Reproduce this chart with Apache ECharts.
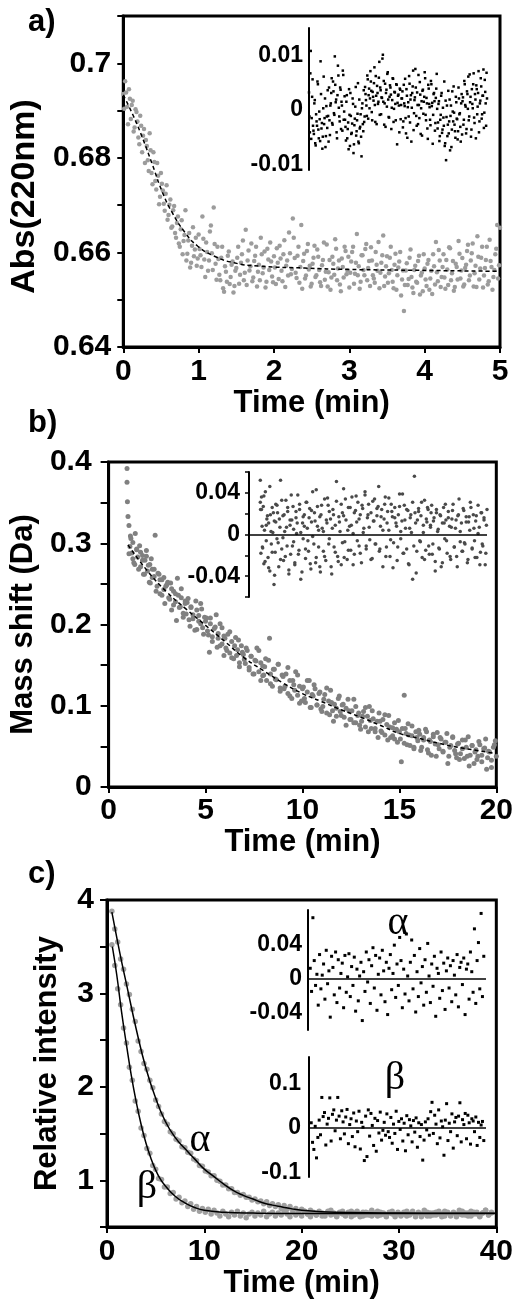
<!DOCTYPE html>
<html>
<head>
<meta charset="utf-8">
<title>Decay kinetics a-c</title>
<script src="https://cdn.jsdelivr.net/npm/echarts@6/dist/echarts.min.js"></script>
<style>
html, body { margin: 0; padding: 0; background: #fff; }
#chart { width: 516px; height: 1300px; }
</style>
</head>
<body>
<div id="chart"></div>
<script>
// ---- panel a : absorbance at 220 nm (two interleaved sweeps) ----
var aTime = [
  0,0.025,0.05,0.075,0.1,0.125,0.15,0.175,0.2,0.225,
  0.25,0.275,0.3,0.325,0.35,0.375,0.4,0.425,0.45,0.475,
  0.5,0.525,0.55,0.575,0.6,0.625,0.65,0.675,0.7,0.725,
  0.75,0.775,0.8,0.825,0.85,0.875,0.9,0.925,0.95,0.975,
  1,1.025,1.05,1.075,1.1,1.125,1.15,1.175,1.2,1.225,
  1.25,1.275,1.3,1.325,1.35,1.375,1.4,1.425,1.45,1.475,
  1.5,1.525,1.55,1.575,1.6,1.625,1.65,1.675,1.7,1.725,
  1.75,1.775,1.8,1.825,1.85,1.875,1.9,1.925,1.95,1.975,
  2,2.025,2.05,2.075,2.1,2.125,2.15,2.175,2.2,2.225,
  2.25,2.275,2.3,2.325,2.35,2.375,2.4,2.425,2.45,2.475,
  2.5,2.525,2.55,2.575,2.6,2.625,2.65,2.675,2.7,2.725,
  2.75,2.775,2.8,2.825,2.85,2.875,2.9,2.925,2.95,2.975,
  3,3.025,3.05,3.075,3.1,3.125,3.15,3.175,3.2,3.225,
  3.25,3.275,3.3,3.325,3.35,3.375,3.4,3.425,3.45,3.475,
  3.5,3.525,3.55,3.575,3.6,3.625,3.65,3.675,3.7,3.725,
  3.75,3.775,3.8,3.825,3.85,3.875,3.9,3.925,3.95,3.975,
  4,4.025,4.05,4.075,4.1,4.125,4.15,4.175,4.2,4.225,
  4.25,4.275,4.3,4.325,4.35,4.375,4.4,4.425,4.45,4.475,
  4.5,4.525,4.55,4.575,4.6,4.625,4.65,4.675,4.7,4.725,
  4.75,4.775,4.8,4.825,4.85,4.875,4.9,4.925,4.95,4.975,
  5
];
var aAbs = [
  0.6935,0.6962,0.6908,0.6945,0.6882,0.6921,0.6864,0.6897,0.6843,0.6889,
  0.6812,0.6861,0.6838,0.6795,0.6852,0.6768,0.6812,0.6751,0.6789,0.6702,
  0.6768,0.6731,0.6688,0.6742,0.6679,0.6712,0.6655,0.6698,0.6631,0.6676,
  0.6612,0.6668,0.6624,0.6689,0.6597,0.6641,0.6578,0.6653,0.6606,0.6572,
  0.6638,0.6594,0.6676,0.6585,0.6621,0.6561,0.6644,0.6598,0.6695,0.6576,
  0.6612,0.6553,0.6589,0.6524,0.6571,0.6538,0.6602,0.6548,0.6581,0.6529,
  0.6567,0.6612,0.6553,0.6596,0.6541,0.6648,0.6583,0.6562,0.6619,0.6547,
  0.6593,0.6528,0.6574,0.6631,0.6556,0.6602,0.6538,0.6585,0.6621,0.6549,
  0.6592,0.6533,0.6578,0.6614,0.6561,0.6596,0.6527,0.6583,0.6642,0.6554,
  0.6672,0.6588,0.6546,0.6612,0.6569,0.6523,0.6597,0.6551,0.6618,0.6572,
  0.6534,0.6589,0.6548,0.6606,0.6563,0.6529,0.6584,0.6542,0.6617,0.6558,
  0.6521,0.6591,0.6553,0.6608,0.6566,0.6532,0.6587,0.6547,0.6603,0.6562,
  0.6526,0.6581,0.6612,0.6555,0.6639,0.6571,0.6538,0.6594,0.6552,0.6618,
  0.6567,0.6529,0.6583,0.6545,0.6601,0.6561,0.6524,0.6578,0.6636,0.6549,
  0.6592,0.6556,0.6612,0.6538,0.6574,0.6521,0.6568,0.6601,0.6543,0.6476,
  0.6562,0.6531,0.6589,0.6548,0.6514,0.6572,0.6536,0.6593,0.6551,0.6518,
  0.6566,0.6529,0.6584,0.6545,0.6512,0.6571,0.6622,0.6539,0.6583,0.6548,
  0.6596,0.6523,0.6564,0.6611,0.6541,0.6582,0.6527,0.6569,0.6624,0.6545,
  0.6588,0.6532,0.6574,0.6616,0.6551,0.6598,0.6528,0.6572,0.6634,0.6543,
  0.6589,0.6526,0.6567,0.6612,0.6539,0.6582,0.6521,0.6563,0.6608,0.6545,
  0.6652
];
var aResid = [
  0.0032,-0.0041,0.0108,-0.0015,0.0056,
  -0.0038,0.0012,-0.0061,-0.0008,-0.0029,0.0047,-0.0052,-0.0017,0.0089,-0.0034,
  -0.0071,0.0003,-0.0026,0.0021,-0.0048,-0.0012,0.0036,-0.0058,-0.0019,0.0008,
  0.0031,-0.0024,0.0052,-0.0006,0.0098,0.0014,-0.0041,0.0027,0.0063,-0.0012,
  0.0041,-0.0035,0.0008,0.0072,-0.0018,0.0025,
  -0.0031,0.0015,-0.0052,-0.0023,0.0038,-0.0066,-0.0011,-0.0042,0.0021,-0.0079,
  -0.0028,0.0006,-0.0047,-0.0019,0.0049,-0.0061,-0.0034,-0.0008,-0.0085,0.0012,
  -0.0039,-0.0022,
  0.0042,0.0018,-0.0011,0.0056,0.0027,0.0003,0.0071,0.0035,-0.0019,0.0024,
  0.0049,0.0009,0.0062,-0.0026,0.0031,0.0015,0.0088,0.0041,-0.0008,0.0022,
  0.0101,0.0053,0.0012,-0.0031,0.0037,0.0066,0.0019,-0.0014,0.0045,0.0028,
  0.0004,0.0058,-0.0022,0.0033,0.0011,0.0047,-0.0063,0.0026,0.0008,0.0039,
  -0.0017,0.0021,
  0.0034,-0.0021,0.0012,0.0057,-0.0043,0.0026,0.0005,-0.0012,0.0048,0.0019,
  -0.0058,0.0031,0.0072,-0.0006,0.0023,0.0041,-0.0029,0.0009,0.0064,-0.0015,
  0.0028,0.0003,-0.0047,0.0037,0.0015,0.0069,-0.0009,0.0022,-0.0034,0.0046,
  0.0011,-0.0018,0.0053,0.0007,-0.0062,0.0029,0.0016,-0.0024,0.0039,0.0002,
  -0.0023,0.0016,-0.0048,-0.0009,0.0031,-0.0036,-0.0014,0.0052,-0.0061,-0.0092,
  0.0008,-0.0027,-0.0043,0.0019,-0.0011,-0.0068,0.0034,-0.0021,-0.0005,-0.0039,
  0.0024,-0.0016,-0.0054,0.0041,-0.0008,-0.0031,0.0012,-0.0045,
  0.0023,-0.0018,0.0047,0.0006,-0.0035,0.0029,0.0061,-0.0012,0.0014,-0.0049,
  0.0038,0.0003,0.0067,-0.0024,0.0019,0.0045,-0.0008,0.0031,-0.0041,0.0012,
  0.0058,-0.0016,0.0026,0.0074,-0.0005,0.0033,-0.0029,0.0021
];
var aTime2 = [
  0.0125,0.0375,0.0625,0.0875,0.1125,0.1375,0.1625,0.1875,0.2125,0.2375,
  0.2625,0.2875,0.3125,0.3375,0.3625,0.3875,0.4125,0.4375,0.4625,0.4875,
  0.5125,0.5375,0.5625,0.5875,0.6125,0.6375,0.6625,0.6875,0.7125,0.7375,
  0.7625,0.7875,0.8125,0.8375,0.8625,0.8875,0.9125,0.9375,0.9625,0.9875,
  1.0125,1.0375,1.0625,1.0875,1.1125,1.1375,1.1625,1.1875,1.2125,1.2375,
  1.2625,1.2875,1.3125,1.3375,1.3625,1.3875,1.4125,1.4375,1.4625,1.4875,
  1.5125,1.5375,1.5625,1.5875,1.6125,1.6375,1.6625,1.6875,1.7125,1.7375,
  1.7625,1.7875,1.8125,1.8375,1.8625,1.8875,1.9125,1.9375,1.9625,1.9875,
  2.0125,2.0375,2.0625,2.0875,2.1125,2.1375,2.1625,2.1875,2.2125,2.2375,
  2.2625,2.2875,2.3125,2.3375,2.3625,2.3875,2.4125,2.4375,2.4625,2.4875,
  2.5125,2.5375,2.5625,2.5875,2.6125,2.6375,2.6625,2.6875,2.7125,2.7375,
  2.7625,2.7875,2.8125,2.8375,2.8625,2.8875,2.9125,2.9375,2.9625,2.9875,
  3.0125,3.0375,3.0625,3.0875,3.1125,3.1375,3.1625,3.1875,3.2125,3.2375,
  3.2625,3.2875,3.3125,3.3375,3.3625,3.3875,3.4125,3.4375,3.4625,3.4875,
  3.5125,3.5375,3.5625,3.5875,3.6125,3.6375,3.6625,3.6875,3.7125,3.7375,
  3.7625,3.7875,3.8125,3.8375,3.8625,3.8875,3.9125,3.9375,3.9625,3.9875,
  4.0125,4.0375,4.0625,4.0875,4.1125,4.1375,4.1625,4.1875,4.2125,4.2375,
  4.2625,4.2875,4.3125,4.3375,4.3625,4.3875,4.4125,4.4375,4.4625,4.4875,
  4.5125,4.5375,4.5625,4.5875,4.6125,4.6375,4.6625,4.6875,4.7125,4.7375,
  4.7625,4.7875,4.8125,4.8375,4.8625,4.8875,4.9125,4.9375,4.9625,4.9875
];
var aAbs2 = [
  0.6904,0.6938,0.6871,0.6925,0.6912,0.6856,0.6903,0.6877,0.6829,0.6868,
  0.6847,0.6789,0.6825,0.6772,0.6816,0.6744,0.6791,0.6733,0.6762,0.6718,
  0.6745,0.6703,0.6724,0.6669,0.6701,0.6652,0.6689,0.6641,0.6662,0.6619,
  0.6649,0.6596,0.6637,0.6583,0.6625,0.6568,0.6614,0.6592,0.6631,0.6587,
  0.6607,0.6569,0.6629,0.6548,0.6601,0.6583,0.6657,0.6563,0.6618,0.6542,
  0.6586,0.6541,0.6612,0.6517,0.6559,0.6593,0.6533,0.6574,0.6515,0.6561,
  0.6589,0.6534,0.6578,0.6625,0.6557,0.6531,0.6604,0.6571,0.6539,0.6582,
  0.6612,0.6559,0.6541,0.6596,0.6568,0.6526,0.6608,0.6563,0.6581,0.6537,
  0.6568,0.6609,0.6544,0.6587,0.6539,0.6626,0.6572,0.6551,0.6598,0.6565,
  0.6631,0.6557,0.6593,0.6536,0.6658,0.6582,0.6545,0.6603,0.6564,0.6528,
  0.6576,0.6614,0.6552,0.6591,0.6537,0.6573,0.6621,0.6559,0.6528,0.6584,
  0.6547,0.6576,0.6628,0.6541,0.6583,0.6518,0.6569,0.6612,0.6554,0.6591,
  0.6557,0.6601,0.6534,0.6578,0.6552,0.6523,0.6594,0.6563,0.6607,0.6541,
  0.6582,0.6611,0.6552,0.6536,0.6574,0.6622,0.6557,0.6594,0.6529,0.6571,
  0.6536,0.6589,0.6563,0.6524,0.6597,0.6552,0.6581,0.6509,0.6562,0.6531,
  0.6577,0.6544,0.6606,0.6526,0.6563,0.6538,0.6582,0.6511,0.6557,0.6596,
  0.6543,0.6576,0.6521,0.6561,0.6596,0.6532,0.6558,0.6605,0.6527,0.6569,
  0.6547,0.6584,0.6531,0.6609,0.6556,0.6519,0.6576,0.6543,0.6597,0.6562,
  0.6528,0.6567,0.6603,0.6541,0.6583,0.6619,0.6556,0.6527,0.6591,0.6566,
  0.6612,0.6551,0.6584,0.6532,0.6627,0.6569,0.6548,0.6596,0.6658,0.6573
];
var aResid2 = [
  -0.0012,0.0067,-0.0053,0.0024,-0.0029,
  -0.0044,0.0018,-0.0065,-0.0021,0.0052,-0.0036,-0.0003,-0.0057,0.0029,-0.0024,
  -0.0049,0.0061,-0.0015,-0.0068,0.0007,-0.0033,-0.0011,0.0041,-0.0046,
  0.0012,0.0058,-0.0027,0.0034,-0.0009,0.0046,0.0019,-0.0052,0.0081,0.0004,
  -0.0021,0.0037,0.0015,-0.0038,0.0064,-0.0003,
  -0.0018,-0.0056,0.0027,-0.0035,-0.0072,-0.0009,0.0031,-0.0044,-0.0025,0.0011,
  -0.0063,-0.0016,0.0042,-0.0039,-0.0007,-0.0058,0.0019,-0.0031,-0.0049,0.0003,
  -0.0026,0.0036,-0.0012,
  0.0029,0.0008,0.0063,-0.0016,0.0039,0.0021,0.0052,-0.0004,0.0033,0.0017,
  0.0078,-0.0022,0.0026,0.0044,0.0011,0.0059,-0.0009,0.0036,0.0023,0.0094,
  0.0015,-0.0027,0.0048,0.0031,0.0006,0.0069,-0.0013,0.0024,0.0041,-0.0035,
  0.0018,0.0057,0.0002,0.0032,-0.0019,0.0046,0.0013,0.0028,-0.0041,0.0037,
  0.0009,
  0.0021,-0.0032,0.0046,0.0007,-0.0015,0.0038,-0.0051,0.0014,0.0062,-0.0023,
  0.0027,0.0004,0.0043,-0.0037,0.0018,0.0075,-0.0011,0.0032,-0.0026,0.0009,
  0.0051,-0.0044,0.0016,0.0035,-0.0007,0.0024,0.0058,-0.0019,0.0012,-0.0053,
  0.0039,0.0005,-0.0028,0.0047,0.0013,-0.0009,0.0031,-0.0038,0.0022,0.0066,
  -0.0034,0.0011,-0.0057,-0.0018,0.0026,-0.0042,0.0004,-0.0029,-0.0066,0.0017,
  -0.0013,-0.0048,0.0035,-0.0021,-0.0074,0.0008,-0.0036,-0.0003,0.0043,-0.0027,
  -0.0051,0.0014,-0.0017,-0.0039,0.0021,-0.0006,-0.0058,0.0029,
  0.0016,-0.0027,0.0053,0.0009,-0.0043,0.0034,0.0002,-0.0019,0.0065,0.0024,
  -0.0036,0.0011,0.0047,-0.0014,0.0029,-0.0052,0.0038,0.0006,0.0071,-0.0021,
  0.0017,0.0043,-0.0008,0.0026,-0.0033,0.0055,0.0012,0.0068
];
var aFitTime = [0,0.13,0.26,0.39,0.52,0.65,0.82,0.99,1.21,1.47,1.81,2.41,3,4,5];
var aFitAbs = [0.6933,0.689,0.684,0.6784,0.6727,0.6684,0.6642,0.6613,0.6592,0.6578,0.6571,0.6567,0.6564,0.6562,0.656];

// ---- panel b : mass shift (two interleaved sweeps) ----
var bTime = [
  0.95,0.95,0.97,1,1.05,1.1,1.125,1.2,1.25,1.3,
  1.375,1.45,1.5,1.6,1.65,1.75,1.8,1.875,1.95,2,
  2.1,2.125,2.2,2.25,2.35,2.4,2.5,2.6,2.65,2.75,
  2.85,2.9,3,3.1,3.2,3.25,3.35,3.45,3.5,3.6,
  3.7,3.75,3.85,3.95,4,4.1,4.2,4.25,4.35,4.5,
  4.55,4.65,4.75,4.8,4.9,5,5.1,5.2,5.25,5.35,
  5.5,5.6,5.65,5.75,5.85,5.95,6,6.1,6.25,6.35,
  6.5,6.6,6.7,6.75,6.9,7,7.1,7.25,7.35,7.5,
  7.6,7.75,7.85,7.95,8,8.1,8.3,8.35,8.5,8.6,
  8.75,8.85,9,9.1,9.25,9.35,9.5,9.6,9.75,9.85,
  10,10.1,10.25,10.4,10.5,10.6,10.75,10.9,11,11.1,
  11.25,11.4,11.5,11.6,11.75,11.9,12,12.1,12.25,12.4,
  12.5,12.65,12.75,12.9,13,13.1,13.25,13.4,13.5,13.6,
  13.75,13.9,14,14.1,14.25,14.4,14.5,14.65,14.75,14.9,
  15,15.1,15.25,15.3,15.4,15.5,15.65,15.75,15.9,16,
  16.1,16.25,16.4,16.5,16.6,16.75,16.9,17,17.1,17.25,
  17.4,17.5,17.6,17.75,17.9,18,18.1,18.25,18.4,18.5,
  18.6,18.75,18.9,19,19.1,19.25,19.4,19.5,19.6,19.75,
  19.9,20
];
var bShift = [
  0.392,0.375,0.351,0.333,0.322,0.296,0.309,0.288,0.301,0.276,
  0.312,0.292,0.283,0.297,0.271,0.285,0.262,0.279,0.291,0.266,
  0.252,0.274,0.281,0.258,0.268,0.31,0.247,0.262,0.238,0.255,
  0.243,0.226,0.249,0.233,0.251,0.218,0.241,0.228,0.205,0.236,
  0.222,0.244,0.209,0.226,0.213,0.232,0.198,0.221,0.207,0.229,
  0.194,0.211,0.201,0.219,0.188,0.204,0.192,0.166,0.208,0.185,
  0.197,0.172,0.189,0.201,0.176,0.162,0.183,0.168,0.191,0.159,
  0.174,0.162,0.181,0.148,0.166,0.157,0.171,0.144,0.161,0.139,
  0.155,0.168,0.131,0.149,0.138,0.158,0.183,0.127,0.145,0.133,
  0.151,0.118,0.136,0.124,0.147,0.112,0.131,0.119,0.138,0.103,
  0.121,0.109,0.131,0.098,0.114,0.126,0.101,0.117,0.093,0.108,
  0.122,0.089,0.104,0.081,0.097,0.112,0.088,0.102,0.076,0.094,
  0.083,0.108,0.079,0.091,0.071,0.087,0.098,0.068,0.082,0.094,
  0.072,0.061,0.081,0.067,0.089,0.058,0.074,0.063,0.079,0.055,
  0.068,0.031,0.113,0.072,0.052,0.064,0.075,0.049,0.061,0.07,
  0.045,0.058,0.068,0.042,0.056,0.065,0.038,0.052,0.061,0.044,
  0.055,0.029,0.049,0.062,0.041,0.053,0.034,0.047,0.058,0.038,
  0.026,0.051,0.043,0.034,0.056,0.039,0.048,0.022,0.044,0.033,
  0.052,0.038
];
var bResid = [
  0.052,0.031,0.024,-0.018,0.036,0.008,-0.012,0.027,-0.028,0.004,
  0.041,-0.006,0.015,-0.022,0.011,-0.035,0.019,-0.009,0.026,0.002,
  -0.048,0.013,-0.017,0.029,-0.004,0.021,-0.031,0.007,0.052,-0.014,
  0.018,-0.025,0.003,0.033,-0.011,0.022,-0.038,0.009,-0.019,0.014,
  0.027,-0.007,-0.029,0.016,0.001,0.038,-0.015,0.024,-0.043,0.011,
  -0.004,0.019,-0.023,0.031,0.006,-0.016,0.025,-0.033,0.012,-0.002,
  0.021,-0.027,0.043,0.008,-0.012,0.017,-0.036,0.028,0.003,-0.021,
  0.014,0.035,-0.009,0.022,-0.031,0.006,0.019,-0.017,0.051,-0.026,
  0.012,0.029,-0.008,0.018,-0.022,0.034,0.004,-0.015,0.026,0.009,
  -0.029,0.021,0.037,-0.006,0.015,-0.018,0.028,0.002,0.041,-0.011,
  0.019,0.007,-0.024,0.032,0.013,-0.009,0.025,0.046,-0.014,0.017,
  0.004,0.029,-0.021,0.011,0.035,-0.005,0.022,-0.032,0.016,0.008,
  -0.012,0.027,0.003,0.039,-0.018,0.014,0.024,-0.028,0.006,0.019,
  -0.043,0.056,0.011,-0.016,0.022,-0.007,0.031,0.002,-0.024,0.015,
  0.026,-0.011,0.009,0.021,-0.019,0.013,-0.035,0.024,0.005,-0.014,
  0.018,-0.027,0.011,0.029,-0.006,0.016,-0.021,0.007,0.023,-0.012,
  0.014,-0.031,0.019,0.003,-0.016,0.025,-0.008,0.012,-0.024,0.017,
  0.031,-0.013,0.006,-0.022,0.018,0.001,-0.029,0.021,-0.009,0.014,
  -0.018,0.024
];
var bTime2 = [
  1.05,1.15,1.25,1.35,1.45,1.55,1.65,1.75,1.85,1.95,
  2.05,2.15,2.25,2.35,2.45,2.55,2.65,2.75,2.85,2.95,
  3.05,3.15,3.25,3.35,3.45,3.55,3.65,3.75,3.85,3.95,
  4.05,4.15,4.25,4.35,4.45,4.55,4.65,4.75,4.85,4.95,
  5.05,5.15,5.25,5.35,5.45,5.55,5.65,5.75,5.85,5.95,
  6.05,6.15,6.25,6.35,6.45,6.55,6.65,6.75,6.85,6.95,
  7.05,7.15,7.25,7.35,7.45,7.55,7.65,7.75,7.85,7.95,
  8.05,8.15,8.25,8.35,8.45,8.55,8.65,8.75,8.85,8.95,
  9.05,9.15,9.25,9.35,9.45,9.55,9.65,9.75,9.85,9.95,
  10.05,10.15,10.25,10.35,10.45,10.55,10.65,10.75,10.85,10.95,
  11.05,11.15,11.25,11.35,11.45,11.55,11.65,11.75,11.85,11.95,
  12.05,12.15,12.25,12.35,12.45,12.55,12.65,12.75,12.85,12.95,
  13.05,13.15,13.25,13.35,13.45,13.55,13.65,13.75,13.85,13.95,
  14.05,14.15,14.25,14.35,14.45,14.55,14.65,14.75,14.85,14.95,
  15.05,15.15,15.25,15.35,15.45,15.55,15.65,15.75,15.85,15.95,
  16.05,16.15,16.25,16.35,16.45,16.55,16.65,16.75,16.85,16.95,
  17.05,17.15,17.25,17.35,17.45,17.55,17.65,17.75,17.85,17.95,
  18.05,18.15,18.25,18.35,18.45,18.55,18.65,18.75,18.85,18.95,
  19.05,19.15,19.25,19.35,19.45,19.55,19.65,19.75,19.85,19.95
];
var bShift2 = [
  0.287,0.306,0.281,0.274,0.293,0.268,0.289,0.279,0.262,0.284,
  0.273,0.251,0.268,0.259,0.241,0.263,0.255,0.236,0.258,0.247,
  0.252,0.231,0.244,0.224,0.238,0.257,0.221,0.233,0.214,0.229,
  0.227,0.206,0.222,0.212,0.193,0.218,0.204,0.226,0.196,0.209,
  0.208,0.187,0.201,0.179,0.195,0.212,0.183,0.174,0.196,0.186,
  0.171,0.188,0.165,0.179,0.158,0.184,0.169,0.153,0.174,0.163,
  0.152,0.168,0.147,0.161,0.139,0.156,0.171,0.142,0.153,0.137,
  0.148,0.131,0.156,0.139,0.124,0.145,0.132,0.151,0.122,0.138,
  0.121,0.139,0.115,0.131,0.109,0.126,0.142,0.113,0.124,0.106,
  0.123,0.104,0.117,0.131,0.098,0.112,0.121,0.101,0.115,0.096,
  0.099,0.114,0.091,0.106,0.119,0.094,0.102,0.087,0.109,0.093,
  0.101,0.086,0.097,0.108,0.083,0.094,0.079,0.099,0.088,0.076,
  0.081,0.093,0.074,0.087,0.099,0.072,0.084,0.068,0.081,0.091,
  0.069,0.083,0.064,0.077,0.088,0.061,0.073,0.059,0.071,0.082,
  0.059,0.072,0.054,0.066,0.078,0.051,0.063,0.047,0.068,0.057,
  0.065,0.049,0.061,0.071,0.046,0.058,0.039,0.062,0.053,0.067,
  0.047,0.059,0.043,0.055,0.066,0.038,0.051,0.061,0.045,0.036,
  0.054,0.041,0.058,0.035,0.049,0.062,0.039,0.051,0.029,0.046,
  0.038,0.052,0.031,0.047,0.059,0.036,0.043,0.024,0.049,0.057
];
var bResid2 = [
  0.024,-0.013,0.037,-0.026,0.009,0.018,-0.032,0.046,0.003,-0.017,
  0.021,-0.039,0.012,0.028,-0.008,0.015,-0.024,0.033,-0.003,0.019,
  -0.021,0.007,0.026,-0.034,0.014,0.038,-0.011,0.005,-0.027,0.022,
  0.011,-0.019,0.029,0.002,-0.036,0.017,0.008,-0.014,0.031,-0.006,
  0.016,-0.028,0.023,0.041,-0.009,0.013,-0.022,0.027,0.004,-0.031,
  0.019,0.006,-0.016,0.034,-0.025,0.011,0.028,-0.004,0.015,-0.038,
  0.024,-0.012,0.009,0.032,-0.021,0.017,0.003,-0.029,0.021,0.044,
  -0.007,0.014,-0.024,0.026,0.008,-0.015,0.036,0.001,-0.019,0.023,
  0.012,0.031,-0.011,0.019,-0.027,0.025,0.006,0.038,-0.014,0.016,
  0.029,-0.005,0.021,-0.023,0.013,0.034,-0.009,0.018,0.027,-0.016,
  0.008,0.024,-0.031,0.015,0.036,-0.012,0.022,0.004,-0.021,0.029,
  0.017,-0.008,0.026,0.011,-0.025,0.019,0.039,-0.004,0.013,-0.018,
  0.028,0.006,-0.014,0.023,-0.029,0.016,0.002,0.031,-0.011,0.021,
  -0.037,0.014,0.025,-0.006,0.018,-0.022,0.009,0.033,-0.015,0.012,
  0.024,-0.019,0.007,0.028,-0.009,0.016,-0.026,0.021,0.003,-0.013,
  0.019,-0.031,0.011,0.026,-0.004,0.014,-0.018,0.022,0.008,-0.024,
  0.015,0.029,-0.012,0.006,-0.021,0.018,0.034,-0.007,0.011,-0.016,
  0.023,-0.009,0.017,-0.027,0.012,0.004,0.026,-0.014,0.019,-0.006,
  0.013,-0.022,0.028,0.007,-0.017,0.021,-0.011,0.016,-0.029,0.009
];
var bFitTime = [1,2,3,4,5,6,7,8,9,10,11,12,13,14,15,16,17,18,19,20];
var bFitShift = [0.298,0.266,0.24,0.219,0.199,0.179,0.159,0.143,0.128,0.115,0.105,0.095,0.086,0.076,0.066,0.06,0.054,0.049,0.045,0.041];

// ---- panel c : relative intensity, alpha and beta ----
var cTime = [
  0.5,0.8,1.1,1.4,1.7,2,2.3,2.6,2.9,3.2,
  3.5,3.8,4.1,4.4,4.7,5,5.3,5.6,5.9,6.2,
  6.5,6.8,7.1,7.4,7.7,8,8.3,8.6,8.9,9.2,
  9.5,9.8,10.1,10.4,10.7,11,11.3,11.6,11.9,12.2,
  12.5,12.8,13.1,13.4,13.7,14,14.3,14.6,14.9,15.2,
  15.5,15.8,16.1,16.4,16.7,17,17.3,17.6,17.9,18.2,
  18.5,18.8,19.1,19.4,19.7,20,20.3,20.6,20.9,21.2,
  21.5,21.8,22.1,22.4,22.7,23,23.3,23.6,23.9,24.2,
  24.5,24.8,25.1,25.4,25.7,26,26.3,26.6,26.9,27.2,
  27.5,27.8,28.1,28.4,28.7,29,29.3,29.6,29.9,30.2,
  30.5,30.8,31.1,31.4,31.7,32,32.3,32.6,32.9,33.2,
  33.5,33.8,34.1,34.4,34.7,35,35.3,35.6,35.9,36.2,
  36.5,36.8,37.1,37.4,37.7,38,38.3,38.6,38.9,39.2,
  39.5
];
var cAlpha = [
  3.88,3.69,3.55,3.37,3.26,3.10,2.99,2.83,2.70,2.49,
  2.38,2.25,2.19,2.07,1.99,1.86,1.79,1.71,1.63,1.60,
  1.52,1.50,1.44,1.42,1.36,1.35,1.30,1.29,1.23,1.21,
  1.16,1.15,1.10,1.09,1.05,1.05,1.00,0.99,0.95,0.95,
  0.91,0.91,0.87,0.87,0.84,0.85,0.82,0.82,0.79,0.80,
  0.77,0.78,0.75,0.77,0.73,0.75,0.72,0.74,0.70,0.73,
  0.69,0.72,0.68,0.70,0.66,0.69,0.67,0.64,0.68,0.66,
  0.63,0.67,0.65,0.62,0.66,0.68,0.64,0.62,0.65,0.67,
  0.63,0.66,0.61,0.65,0.67,0.64,0.62,0.66,0.63,0.68,
  0.65,0.62,0.66,0.64,0.61,0.65,0.67,0.63,0.66,0.62,
  0.64,0.67,0.63,0.65,0.61,0.66,0.64,0.68,0.62,0.65,
  0.63,0.66,0.64,0.61,0.67,0.65,0.62,0.66,0.64,0.68,
  0.63,0.65,0.62,0.67,0.64,0.66,0.61,0.65,0.68,0.63,
  0.66
];
var cBeta = [
  3.52,3.30,3.05,2.88,2.63,2.47,2.21,2.07,1.85,1.74,
  1.56,1.48,1.34,1.29,1.16,1.12,1.02,1.01,0.93,0.93,
  0.86,0.87,0.80,0.82,0.76,0.78,0.72,0.75,0.69,0.72,
  0.67,0.70,0.66,0.69,0.64,0.68,0.65,0.62,0.67,0.64,
  0.61,0.66,0.63,0.67,0.62,0.65,0.60,0.64,0.66,0.62,
  0.65,0.63,0.67,0.61,0.64,0.66,0.62,0.65,0.63,0.67,
  0.64,0.61,0.66,0.63,0.65,0.62,0.67,0.64,0.61,0.65,
  0.63,0.66,0.62,0.64,0.67,0.63,0.65,0.61,0.66,0.64,
  0.62,0.65,0.67,0.63,0.64,0.61,0.66,0.63,0.65,0.62,
  0.64,0.67,0.63,0.65,0.62,0.66,0.64,0.61,0.65,0.63,
  0.66,0.62,0.64,0.67,0.63,0.65,0.61,0.64,0.66,0.62,
  0.65,0.63,0.67,0.64,0.62,0.66,0.63,0.65,0.61,0.64,
  0.67,0.63,0.65,0.62,0.66,0.64,0.62,0.65,0.68,0.63,
  0.65
];
var cResAlpha = [
  0.012,-0.015,0.071,0.021,-0.008,0.005,-0.031,0.028,-0.012,0.004,
  0.017,-0.024,0.033,-0.006,0.009,-0.045,0.026,0.013,-0.019,0.031,
  -0.028,0.022,-0.011,0.006,0.018,-0.034,0.027,-0.016,0.002,0.029,
  -0.021,0.014,-0.008,0.025,-0.038,0.011,-0.026,0.003,0.019,-0.049,
  0.008,-0.015,0.031,-0.004,0.022,-0.029,0.015,0.036,-0.011,0.027,
  -0.037,0.005,0.024,-0.019,0.033,0.009,-0.027,0.019,-0.042,0.012,
  0.028,-0.013,0.006,0.039,-0.022,0.017,-0.008,0.048,0.021,-0.034,
  0.011,-0.018,0.052,0.003,-0.026,0.019,0.045,-0.012,0.027,-0.039,
  0.008,-0.021,0.035,-0.005,0.014,-0.031,0.022,-0.016,0.041,0.003,
  -0.028,0.017,-0.009,0.026,-0.044,0.012,0.006,-0.023,0.031,-0.014,
  0.018,-0.036,0.009,0.024,-0.011,0.015,-0.027,0.021,0.004,-0.019,
  0.028,-0.033,0.013,0.019,-0.007,0.024,-0.042,0.011,0.017,-0.024,
  0.031,0.008,-0.016,0.058,-0.029,0.021,0.042,-0.012,0.076,-0.021,
  0.026
];
var cResBeta = [
  0.012,-0.032,-0.048,0.004,-0.067,-0.021,0.018,-0.015,0.069,0.026,
  0.035,-0.038,0.009,0.022,0.068,-0.029,0.031,0.041,-0.006,0.018,
  0.069,0.027,-0.024,0.039,0.014,-0.013,0.025,0.042,-0.035,0.008,
  0.021,-0.019,0.034,-0.042,0.016,-0.008,0.038,-0.047,0.013,0.002,
  -0.073,0.027,-0.064,0.041,-0.018,0.033,0.006,-0.039,0.022,-0.052,
  0.017,-0.011,0.036,-0.027,-0.005,0.013,-0.016,0.032,-0.008,-0.021,
  0.024,-0.034,0.009,-0.012,0.038,-0.048,0.015,-0.003,0.021,-0.029,
  0.011,-0.051,0.028,-0.015,0.019,0.005,-0.031,0.017,-0.009,0.023,
  -0.043,0.012,-0.019,0.008,-0.072,-0.027,0.014,-0.004,0.021,-0.016,
  0.037,0.058,-0.012,0.029,0.009,-0.035,0.041,-0.022,0.016,0.003,
  -0.061,0.018,0.055,-0.028,0.011,-0.008,0.032,-0.045,0.014,0.024,
  -0.017,0.027,0.057,-0.031,0.019,0.008,0.033,-0.024,0.029,0.012,
  -0.036,0.021,0.016,-0.008,0.025,-0.039,0.013,-0.021,0.007,0.015,
  -0.028
];
var cFitAlphaTime = [0.5,1,1.5,2,3,4,5,6,7,8,9,10,11,12,13,14,15,16,17,18,19,20,22,25,30,35,40];
var cFitAlpha = [3.87,3.6,3.34,3.1,2.62,2.2,1.88,1.63,1.46,1.34,1.23,1.12,1.04,0.96,0.89,0.84,0.8,0.76,0.735,0.715,0.695,0.68,0.665,0.655,0.65,0.648,0.647];
var cFitBetaTime = [0.55,1,1.5,2,2.5,3,3.5,4,4.5,5,5.5,6,7,8,9,10,12,15,20,40];
var cFitBeta = [3.5,3.2,2.8,2.45,2.12,1.84,1.6,1.4,1.24,1.11,1.01,0.94,0.83,0.76,0.71,0.68,0.66,0.65,0.645,0.645];

var FONT = '"Liberation Sans", Arial, Helvetica, sans-serif';
var SERIF = '"Liberation Serif", "Times New Roman", serif';

function pairs(xs, ys) {
  var out = [];
  var n = Math.min(xs.length, ys.length);
  for (var i = 0; i < n; i++) out.push([xs[i], ys[i]]);
  return out;
}

function mainX(g, max, step, margin, gap) {
  return {
    gridIndex: g, type: 'value', min: 0, max: max, interval: step,
    name: 'Time (min)', nameLocation: 'middle', nameGap: gap,
    nameTextStyle: { color: '#000', fontFamily: FONT, fontWeight: 'bold', fontSize: 31 },
    axisLine: { show: true, onZero: false, lineStyle: { color: '#000', width: 3 } },
    axisTick: { show: true, inside: false, length: 6, lineStyle: { color: '#000', width: 2 } },
    axisLabel: { color: '#000', fontFamily: FONT, fontWeight: 'bold', fontSize: 30, margin: margin },
    splitLine: { show: false }
  };
}

function mainY(g, min, max, step, fmt, margin, tick, name, gap, size, pad) {
  return {
    gridIndex: g, type: 'value', min: min, max: max, interval: step,
    name: name, nameLocation: 'middle', nameGap: gap,
    nameTextStyle: { color: '#000', fontFamily: FONT, fontWeight: 'bold', fontSize: size, padding: pad || 0 },
    axisLine: { show: true, onZero: false, lineStyle: { color: '#000', width: 3 } },
    axisTick: { show: true, inside: false, length: tick, lineStyle: { color: '#000', width: 2 } },
    axisLabel: { color: '#000', fontFamily: FONT, fontWeight: 'bold', fontSize: 30, margin: margin, formatter: fmt },
    splitLine: { show: false }
  };
}

function insetX(g, max) {
  return { gridIndex: g, type: 'value', min: 0, max: max, show: false, splitLine: { show: false } };
}

function insetY(g, min, max, labels, margin, ticks) {
  var y = {
    gridIndex: g, type: 'value', min: min, max: max,
    axisLine: { show: true, onZero: false, lineStyle: { color: '#000', width: 2 } },
    axisTick: { show: false },
    axisLabel: {
      customValues: labels, color: '#000', fontFamily: FONT, fontWeight: 'bold', fontSize: 23, margin: margin,
      formatter: function (v) { return String(+v.toFixed(3)); }
    },
    splitLine: { show: false }
  };
  if (ticks) {
    y.interval = ticks;
    y.axisTick = { show: true, inside: false, length: 4, lineStyle: { color: '#000', width: 1.5 } };
  }
  return y;
}

var zeroLine = {
  silent: true, symbol: ['none', 'none'], label: { show: false },
  lineStyle: { color: '#000', type: 'solid', width: 1.5 },
  data: [{ yAxis: 0 }]
};

function dots(x, y, data, color, size, shape) {
  return {
    type: 'scatter', xAxisIndex: x, yAxisIndex: y, data: data,
    symbol: shape || 'circle', symbolSize: size,
    itemStyle: { color: color, opacity: 1 }, z: 2
  };
}

function fit(x, y, data, dashed) {
  return {
    type: 'line', xAxisIndex: x, yAxisIndex: y, data: data,
    showSymbol: false, smooth: true, z: 3,
    lineStyle: { color: '#000', width: 1.5, type: dashed ? [4, 3] : 'solid' }
  };
}

function label(text, x, y, font, align) {
  return {
    type: 'text', x: x, y: y, z: 10,
    style: {
      text: text, font: font, fill: '#000',
      align: align, textAlign: align, verticalAlign: 'middle', textVerticalAlign: 'middle'
    }
  };
}

var chart = echarts.init(document.getElementById('chart'), null, { renderer: 'canvas' });

var option = {
  animation: false,
  backgroundColor: '#fff',
  grid: [
    { left: 113, top: 16, width: 387, height: 331, show: true, borderColor: '#000', borderWidth: 3 },
    { left: 309, top: 28, width: 178, height: 142 },
    { left: 104, top: 462, width: 396, height: 325, show: true, borderColor: '#000', borderWidth: 3 },
    { left: 249, top: 472, width: 238, height: 125 },
    { left: 107, top: 900, width: 391, height: 330, show: true, borderColor: '#000', borderWidth: 3 },
    { left: 308, top: 910, width: 178, height: 120 },
    { left: 309, top: 1057, width: 177, height: 120 }
  ],
  xAxis: [
    mainX(0, 5, 1, 10, 39),
    insetX(1, 5),
    mainX(2, 20, 5, 9, 39),
    insetX(3, 20),
    mainX(4, 40, 10, 10, 36),
    insetX(5, 40),
    insetX(6, 40)
  ],
  yAxis: [
    mainY(0, 0.64, 0.71, 0.01, function (v) {
      var r = Math.round(v * 100); return r % 2 === 0 ? String(r / 100) : '';
    }, 12, 6, 'Abs(220nm)', 68, 34, [0, 30, 0, 0]),
    insetY(1, -0.011, 0.015, [-0.01, 0, 0.01], 6, 0),
    mainY(2, 0, 0.4, 0.05, function (v) {
      var r = Math.round(v * 100); return r % 10 === 0 ? String(r / 100) : '';
    }, 17, 8, 'Mass shift (Da)', 58, 31),
    insetY(3, -0.06, 0.06, [-0.04, 0, 0.04], 9, 0.02),
    mainY(4, 0.5, 4, 0.5, function (v) {
      return Math.abs(v - Math.round(v)) < 1e-6 ? String(Math.round(v)) : '';
    }, 13, 7, 'Relative intensity', 44, 31),
    insetY(5, -0.06, 0.08, [-0.04, 0, 0.04], 6, 0),
    insetY(6, -0.11, 0.16, [-0.1, 0, 0.1], 8, 0)
  ],
  series: [
    dots(0, 0, pairs(aTime, aAbs).concat(pairs(aTime2, aAbs2)), '#9c9c9c', 4.5),
    fit(0, 0, pairs(aFitTime, aFitAbs), true),
    dots(1, 1, pairs(aTime, aResid).concat(pairs(aTime2, aResid2)), '#000', 2.5, 'rect'),

    dots(2, 2, pairs(bTime, bShift).concat(pairs(bTime2, bShift2)), '#808080', 5),
    fit(2, 2, pairs(bFitTime, bFitShift), true),
    Object.assign(dots(3, 3, pairs(bTime, bResid).concat(pairs(bTime2, bResid2)), '#4a4a4a', 3.5), { markLine: zeroLine }),

    dots(4, 4, pairs(cTime, cAlpha), '#a0a0a0', 5.5),
    dots(4, 4, pairs(cTime, cBeta), '#a0a0a0', 5.5),
    fit(4, 4, pairs(cFitAlphaTime, cFitAlpha), false),
    fit(4, 4, pairs(cFitBetaTime, cFitBeta), false),
    Object.assign(dots(5, 5, pairs(cTime, cResAlpha), '#000', 3, 'rect'), { markLine: zeroLine }),
    Object.assign(dots(6, 6, pairs(cTime, cResBeta), '#000', 3, 'rect'), { markLine: zeroLine })
  ],
  graphic: [
    label('a)', 28, 22, 'bold 31px ' + FONT, 'left'),
    label('b)', 28, 423, 'bold 31px ' + FONT, 'left'),
    label('c)', 28, 874, 'bold 31px ' + FONT, 'left'),
    label('α', 200, 1140, '40px ' + SERIF, 'center'),
    label('β', 147, 1187, '40px ' + SERIF, 'center'),
    label('α', 398, 923, '40px ' + SERIF, 'center'),
    label('β', 395, 1078, '40px ' + SERIF, 'center')
  ]
};

chart.setOption(option);
</script>
</body>
</html>
